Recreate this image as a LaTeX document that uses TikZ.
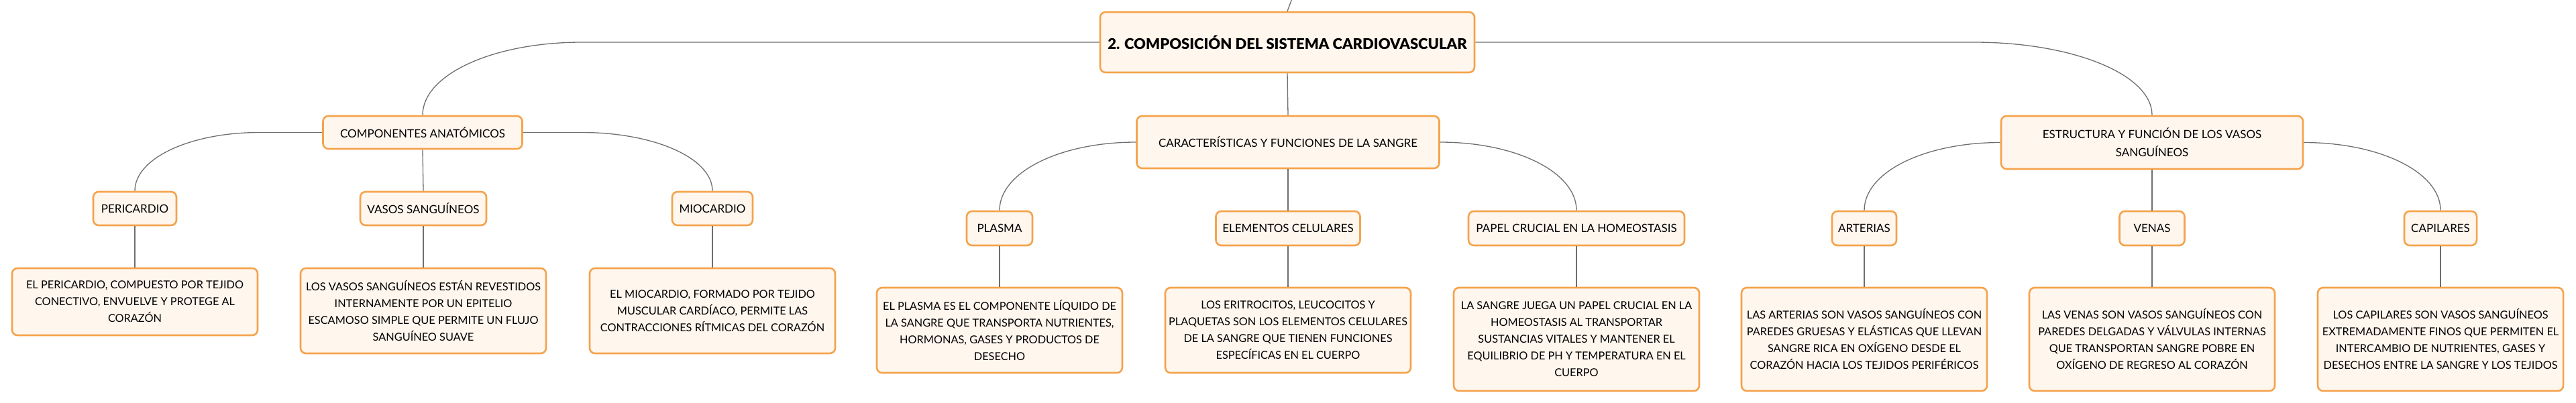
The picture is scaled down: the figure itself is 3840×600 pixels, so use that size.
\documentclass[tikz,border=0pt]{standalone}
\usepackage{fontspec}
\setmainfont{Lato}
\newfontfamily\titlefont{Lato Black}
\usetikzlibrary{calc}
\definecolor{boxorange}{RGB}{244,163,76}
\definecolor{boxfill}{RGB}{255,246,238}
\definecolor{linkgray}{RGB}{110,110,110}
\begin{document}
\begin{tikzpicture}[x=1pt,y=-1pt,
    box/.style={draw=boxorange,fill=boxfill,line width=2.6pt,rounded corners=8pt,align=center,inner sep=0pt},
    title/.style={box,font=\fontsize{22}{26}\titlefont},
    topic/.style={box,minimum height=50pt,font=\fontsize{17}{27}\selectfont},
    desc/.style={box,minimum width=366pt,font=\fontsize{16.3}{25}\selectfont},
    link/.style={draw=linkgray,line width=1.3pt}]
        \useasboundingbox (0,0) rectangle (3840,600);
        % raiz
        \node[title,minimum width=558pt,minimum height=90pt] (comp) at (1919,63) {2. COMPOSICIÓN DEL SISTEMA CARDIOVASCULAR};
        \coordinate (arriba) at (1926,-2);
        % primer nivel
        \node[topic,minimum width=297pt,minimum height=49pt] (anat) at (630,197.5) {COMPONENTES ANATÓMICOS};
        \node[topic,minimum width=451pt,minimum height=78pt] (sangre) at (1920,212) {CARACTERÍSTICAS Y FUNCIONES DE LA SANGRE};
        \node[topic,minimum width=450pt,minimum height=79pt] (vasos) at (3208,212.5) {ESTRUCTURA Y FUNCIÓN DE LOS VASOS\\SANGUÍNEOS};
        % segundo nivel
        \node[topic,minimum width=124pt] (peri) at (201,311) {PERICARDIO};
        \node[topic,minimum width=188pt] (vsang) at (631,311) {VASOS SANGUÍNEOS};
        \node[topic,minimum width=120pt] (mio) at (1062,311) {MIOCARDIO};
        \node[topic,minimum width=98pt,minimum height=51pt] (plasma) at (1490,340.5) {PLASMA};
        \node[topic,minimum width=215pt,minimum height=51pt] (elem) at (1920,340.5) {ELEMENTOS CELULARES};
        \node[topic,minimum width=322pt,minimum height=51pt] (homeo) at (2350,340.5) {PAPEL CRUCIAL EN LA HOMEOSTASIS};
        \node[topic,minimum width=96pt,minimum height=51pt] (art) at (2779,340.5) {ARTERIAS};
        \node[topic,minimum width=97pt,minimum height=51pt] (ven) at (3208,340.5) {VENAS};
        \node[topic,minimum width=108pt,minimum height=51pt] (cap) at (3638,340.5) {CAPILARES};
        % descripciones
        \node[desc,minimum height=100pt] (peri-d) at (201,450) {EL PERICARDIO, COMPUESTO POR TEJIDO\\CONECTIVO, ENVUELVE Y PROTEGE AL\\CORAZÓN};
        \node[desc,minimum height=127pt] (vsang-d) at (631,463.5) {LOS VASOS SANGUÍNEOS ESTÁN REVESTIDOS\\INTERNAMENTE POR UN EPITELIO\\ESCAMOSO SIMPLE QUE PERMITE UN FLUJO\\SANGUÍNEO SUAVE};
        \node[desc,minimum height=127pt] (mio-d) at (1062,463.5) {EL MIOCARDIO, FORMADO POR TEJIDO\\MUSCULAR CARDÍACO, PERMITE LAS\\CONTRACCIONES RÍTMICAS DEL CORAZÓN};
        \node[desc,minimum height=127pt] (plasma-d) at (1490,492.5) {EL PLASMA ES EL COMPONENTE LÍQUIDO DE\\LA SANGRE QUE TRANSPORTA NUTRIENTES,\\HORMONAS, GASES Y PRODUCTOS DE\\DESECHO};
        \node[desc,minimum height=127pt] (elem-d) at (1920,492.5) {LOS ERITROCITOS, LEUCOCITOS Y\\PLAQUETAS SON LOS ELEMENTOS CELULARES\\DE LA SANGRE QUE TIENEN FUNCIONES\\ESPECÍFICAS EN EL CUERPO};
        \node[desc,minimum height=154pt] (homeo-d) at (2350,506) {LA SANGRE JUEGA UN PAPEL CRUCIAL EN LA\\HOMEOSTASIS AL TRANSPORTAR\\SUSTANCIAS VITALES Y MANTENER EL\\EQUILIBRIO DE PH Y TEMPERATURA EN EL\\CUERPO};
        \node[desc,minimum height=154pt] (art-d) at (2779,506) {LAS ARTERIAS SON VASOS SANGUÍNEOS CON\\PAREDES GRUESAS Y ELÁSTICAS QUE LLEVAN\\SANGRE RICA EN OXÍGENO DESDE EL\\CORAZÓN HACIA LOS TEJIDOS PERIFÉRICOS};
        \node[desc,minimum height=154pt] (ven-d) at (3208,506) {LAS VENAS SON VASOS SANGUÍNEOS CON\\PAREDES DELGADAS Y VÁLVULAS INTERNAS\\QUE TRANSPORTAN SANGRE POBRE EN\\OXÍGENO DE REGRESO AL CORAZÓN};
        \node[desc,minimum height=154pt] (cap-d) at (3638,506) {LOS CAPILARES SON VASOS SANGUÍNEOS\\EXTREMADAMENTE FINOS QUE PERMITEN EL\\INTERCAMBIO DE NUTRIENTES, GASES Y\\DESECHOS ENTRE LA SANGRE Y LOS TEJIDOS};
        % conectores
        \draw[link] (comp.north) -- (arriba);
        \draw[link] (comp.west) -- ($(anat.north |- comp.west)+(237,0)$) .. controls +(-131,0) and +(0,-61) .. (anat.north);
        \draw[link] (comp.east) -- ($(vasos.north |- comp.east)+(-265,0)$) .. controls +(146,0) and +(0,-61) .. (vasos.north);
        \draw[link] (comp.south) -- (sangre.north);
        \draw[link] (anat.west) -- ($(peri.north |- anat.west)+(186,0)$) .. controls +(-103,0) and +(0,-49) .. (peri.north);
        \draw[link] (anat.east) -- ($(mio.north |- anat.east)+(-195,0)$) .. controls +(108,0) and +(0,-49) .. (mio.north);
        \draw[link] (anat.south) -- (vsang.north);
        \draw[link] (sangre.west) .. controls +(-113,0) and +(0,-57) .. (plasma.north);
        \draw[link] (sangre.east) .. controls +(113,0) and +(0,-57) .. (homeo.north);
        \draw[link] (sangre.south) -- (elem.north);
        \draw[link] (vasos.west) .. controls +(-113,0) and +(0,-57) .. (art.north);
        \draw[link] (vasos.east) .. controls +(113,0) and +(0,-57) .. (cap.north);
        \draw[link] (vasos.south) -- (ven.north);
        \draw[link] (peri.south) -- (peri-d.north);
        \draw[link] (vsang.south) -- (vsang-d.north);
        \draw[link] (mio.south) -- (mio-d.north);
        \draw[link] (plasma.south) -- (plasma-d.north);
        \draw[link] (elem.south) -- (elem-d.north);
        \draw[link] (homeo.south) -- (homeo-d.north);
        \draw[link] (art.south) -- (art-d.north);
        \draw[link] (ven.south) -- (ven-d.north);
        \draw[link] (cap.south) -- (cap-d.north);
    \end{tikzpicture}
\end{document}
